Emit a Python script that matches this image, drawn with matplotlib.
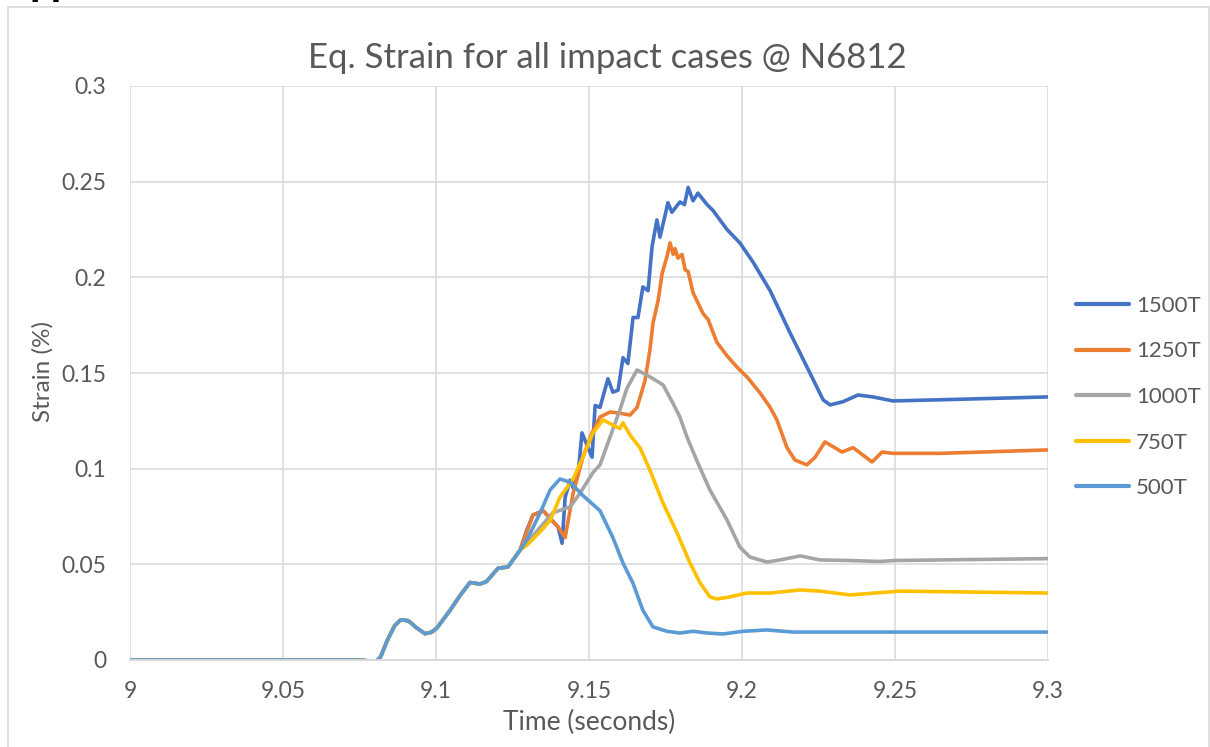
import matplotlib

matplotlib.use("Agg")
import matplotlib.pyplot as plt
from matplotlib.patches import Rectangle

plt.rcParams["font.family"] = ["Lato", "DejaVu Sans"]

# ---- data (time in s, strain) ----
base_t = [9.0, 9.075, 9.078, 9.0805, 9.082, 9.084, 9.0865, 9.0885, 9.091, 9.0935,
          9.0964, 9.0985, 9.1003, 9.1046, 9.108, 9.1111, 9.1144, 9.1165, 9.1203,
          9.1235, 9.1275]
base_s = [0.0, 0.0, -0.0005, -0.0008, 0.002, 0.010, 0.018, 0.021, 0.0205, 0.017,
          0.0138, 0.0145, 0.0167, 0.026, 0.034, 0.0405, 0.0397, 0.041, 0.048,
          0.0486, 0.0575]

t_1500 = [9.1297, 9.1317, 9.135, 9.1399, 9.1412, 9.1422, 9.1438, 9.1448, 9.1466,
          9.1477, 9.151, 9.152, 9.1536, 9.1562, 9.1578, 9.1595, 9.1611, 9.1627,
          9.1644, 9.166, 9.1676, 9.1693, 9.1706, 9.1722, 9.1732, 9.1748, 9.1758,
          9.1771, 9.1797, 9.1812, 9.1824, 9.184, 9.1856, 9.1886, 9.1905, 9.1951,
          9.1993, 9.2036, 9.2092, 9.2157, 9.2222, 9.2265, 9.2288, 9.233, 9.2379,
          9.2428, 9.2493, 9.2647, 9.3]
s_1500 = [0.068, 0.0758, 0.078, 0.0695, 0.061, 0.085, 0.094, 0.090, 0.100,
          0.1187, 0.106, 0.133, 0.132, 0.147, 0.140, 0.141, 0.158, 0.155,
          0.179, 0.179, 0.195, 0.193, 0.216, 0.230, 0.221, 0.232, 0.239,
          0.234, 0.2394, 0.238, 0.247, 0.240, 0.244, 0.238, 0.235, 0.225,
          0.218, 0.208, 0.193, 0.171, 0.150, 0.136, 0.1333, 0.135, 0.1385,
          0.1375, 0.1354, 0.136, 0.1375]

t_1250 = [9.1297, 9.1317, 9.135, 9.1399, 9.1422, 9.1448, 9.148, 9.151, 9.1536,
          9.1569, 9.1601, 9.1634, 9.1657, 9.1683, 9.1699, 9.1709, 9.1726, 9.1739,
          9.1755, 9.1765, 9.1775, 9.1781, 9.1791, 9.1804, 9.1814, 9.1824, 9.184,
          9.1873, 9.1889, 9.1918, 9.1951, 9.1984, 9.2016, 9.2059, 9.2092, 9.2114,
          9.2147, 9.2173, 9.2212, 9.2239, 9.2271, 9.2327, 9.2363, 9.2425, 9.2458,
          9.2493, 9.2647, 9.3]
s_1250 = [0.067, 0.0758, 0.078, 0.0695, 0.064, 0.087, 0.106, 0.1187, 0.127,
          0.1296, 0.129, 0.128, 0.132, 0.146, 0.162, 0.176, 0.188, 0.202,
          0.211, 0.218, 0.212, 0.215, 0.210, 0.212, 0.204, 0.203, 0.192,
          0.181, 0.178, 0.166, 0.159, 0.153, 0.148, 0.1396, 0.132, 0.1255,
          0.111, 0.1045, 0.102, 0.106, 0.114, 0.1087, 0.111, 0.1035, 0.1087,
          0.108, 0.108, 0.1098]

t_1000 = [9.1317, 9.1382, 9.1438, 9.147, 9.1513, 9.1536, 9.1569, 9.1601, 9.1624,
          9.1657, 9.1699, 9.1742, 9.1775, 9.1797, 9.182, 9.1853, 9.1895, 9.1951,
          9.1993, 9.2026, 9.2082, 9.2124, 9.219, 9.2255, 9.235, 9.245, 9.25, 9.3]
s_1000 = [0.065, 0.077, 0.080, 0.087, 0.098, 0.102, 0.1166, 0.1307, 0.142,
          0.1516, 0.148, 0.1438, 0.134, 0.127, 0.1166, 0.104, 0.0889, 0.0732,
          0.059, 0.0538, 0.0512, 0.0523, 0.0544, 0.0523, 0.052, 0.0515, 0.052, 0.053]

t_750 = [9.1297, 9.134, 9.1373, 9.1405, 9.1448, 9.148, 9.1513, 9.1546, 9.1578,
         9.1601, 9.1611, 9.1634, 9.1667, 9.1699, 9.1742, 9.1788, 9.183, 9.1863,
         9.1895, 9.1918, 9.1961, 9.2016, 9.2092, 9.219, 9.2255, 9.2353, 9.2516, 9.3]
s_750 = [0.060, 0.067, 0.073, 0.085, 0.0945, 0.106, 0.1187, 0.1255, 0.1228,
         0.121, 0.124, 0.1176, 0.1108, 0.0993, 0.082, 0.0664, 0.0507, 0.0403,
         0.033, 0.0319, 0.033, 0.035, 0.035, 0.0366, 0.036, 0.034, 0.036, 0.035]

t_500 = [9.1297, 9.134, 9.1373, 9.1405, 9.1438, 9.148, 9.1536, 9.1578, 9.1611,
         9.1644, 9.1676, 9.1709, 9.1755, 9.1797, 9.184, 9.1886, 9.1938, 9.2003,
         9.2082, 9.2167, 9.2255, 9.25, 9.3]
s_500 = [0.0627, 0.0768, 0.0889, 0.0946, 0.093, 0.086, 0.078, 0.064, 0.0507,
         0.040, 0.026, 0.0173, 0.015, 0.0141, 0.015, 0.0141, 0.0136, 0.015,
         0.0157, 0.0146, 0.0146, 0.0146, 0.0146]

labels = ["1500T", "1250T", "1000T", "750T", "500T"]
colors = ["#4472C4", "#ED7D31", "#A5A5A5", "#FFC000", "#5B9BD5"]
series = [(t_1500, s_1500), (t_1250, s_1250), (t_1000, s_1000),
          (t_750, s_750), (t_500, s_500)]

x_ticks = [9, 9.05, 9.1, 9.15, 9.2, 9.25, 9.3]
x_ticklabels = ["9", "9.05", "9.1", "9.15", "9.2", "9.25", "9.3"]
y_ticks = [0, 0.05, 0.1, 0.15, 0.2, 0.25, 0.3]
y_ticklabels = ["0", "0.05", "0.1", "0.15", "0.2", "0.25", "0.3"]

TXT = "#595959"
GRID = "#D9D9D9"

fig = plt.figure(figsize=(12.1, 7.47), dpi=100)
ax = fig.add_axes([130 / 1210, 1 - 660 / 747, 918 / 1210, 574 / 747])

# chart frame (partly cut off in the source screenshot)
fig.patches.append(Rectangle((8 / 1210, -0.1), 1201 / 1210, 1.1 - 7 / 747,
                             transform=fig.transFigure, fill=False,
                             edgecolor=GRID, linewidth=1.2))
# fragment of a heading above the chart
fig.text(30 / 1210, 1 + 4 / 747, "pp", fontsize=22, fontweight="bold",
         color="black", va="baseline", ha="left", family="DejaVu Sans")

for (t, s), lab, c in zip(series, labels, colors):
    ax.plot(base_t + t, base_s + s, color=c, lw=2.6, label=lab,
            solid_joinstyle="round", solid_capstyle="round")

ax.set_xlim(9, 9.3)
ax.set_ylim(0, 0.3)
ax.set_xticks(x_ticks)
ax.set_xticklabels(x_ticklabels)
ax.set_yticks(y_ticks)
ax.set_yticklabels(y_ticklabels)
ax.tick_params(length=0, labelsize=16.5, colors=TXT)
ax.tick_params(axis="y", pad=17)
ax.tick_params(axis="x", pad=15)
ax.grid(True, color=GRID, lw=1.1)
ax.set_axisbelow(True)
for side, sp in ax.spines.items():
    if side == "bottom":
        sp.set_color(GRID)
        sp.set_linewidth(1.3)
    else:
        sp.set_visible(False)

fig.text(607 / 1210, 1 - 58 / 747, "Eq. Strain for all impact cases @ N6812",
         fontsize=25, color=TXT, ha="center", va="center")
fig.text(589 / 1210, 1 - 722 / 747, "Time (seconds)", fontsize=19,
         color=TXT, ha="center", va="center")
fig.text(43 / 1210, 1 - 372 / 747, "Strain (%)", fontsize=17.5, color=TXT,
         ha="center", va="center", rotation=90)

leg = fig.legend(*ax.get_legend_handles_labels(), loc="center left",
                 bbox_to_anchor=(1076 / 1210, 1 - 397 / 747), frameon=False,
                 fontsize=16, labelcolor=TXT, handlelength=2.4,
                 labelspacing=1.15, handletextpad=0.3, borderpad=0,
                 borderaxespad=0)
for h in leg.get_lines():
    h.set_linewidth(3)

fig.savefig("out.png", dpi=100)
